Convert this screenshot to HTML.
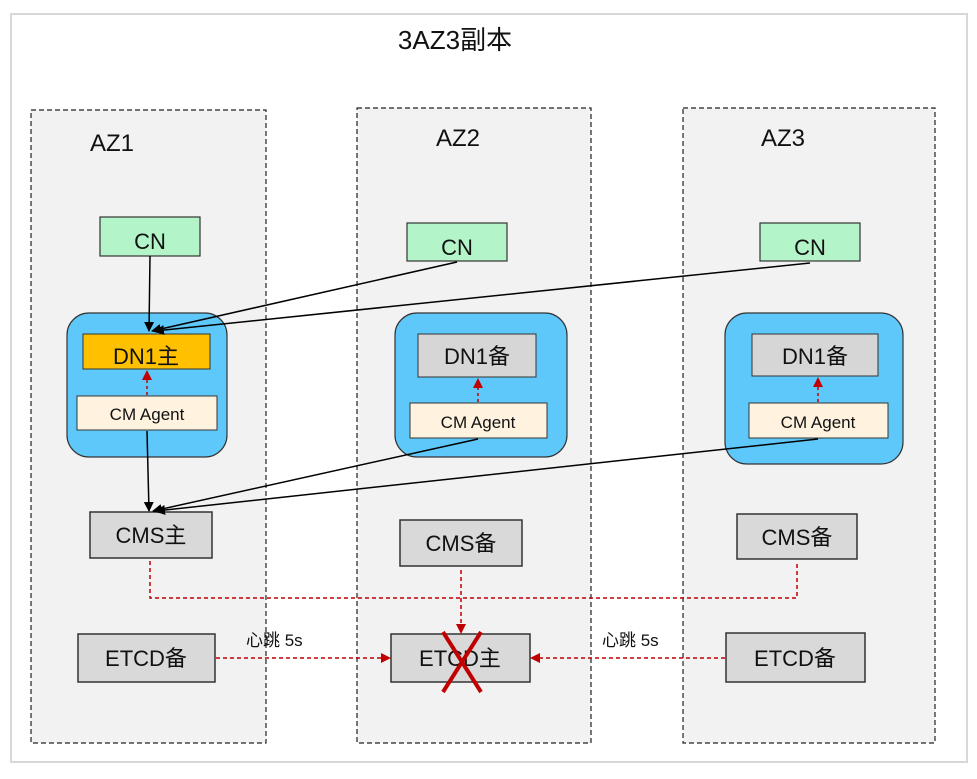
<!DOCTYPE html>
<html><head><meta charset="utf-8"><style>
body{margin:0;background:#fff;width:977px;height:774px;overflow:hidden}
text{font-family:"Liberation Sans","Noto Sans CJK SC",sans-serif;fill:#111}
</style></head><body>
<svg width="977" height="774" viewBox="0 0 977 774" xmlns="http://www.w3.org/2000/svg">
<defs>
<marker id="ab" markerWidth="10" markerHeight="10" refX="9" refY="5" orient="auto" markerUnits="userSpaceOnUse"><path d="M0,0 L10,5 L0,10 z" fill="#000"/></marker>
<marker id="ar" markerWidth="10" markerHeight="10" refX="9" refY="5" orient="auto" markerUnits="userSpaceOnUse"><path d="M0,0 L10,5 L0,10 z" fill="#c00000"/></marker>
</defs>
<rect x="11" y="14" width="956" height="748" fill="#fff" stroke="#d8d8d8" stroke-width="2"/>
<text x="455" y="49" font-size="26" text-anchor="middle">3AZ3副本</text>
<g fill="#f2f2f2" stroke="#222" stroke-width="1.2" stroke-dasharray="5,3">
<rect x="31" y="110" width="235" height="633"/>
<rect x="357" y="108" width="234" height="635"/>
<rect x="683" y="108" width="252" height="635"/>
</g>
<g font-size="24"><text x="90" y="151">AZ1</text><text x="436" y="146">AZ2</text><text x="761" y="146">AZ3</text></g>
<g stroke="#333" stroke-width="1.2" fill="#b3f5c8">
<rect x="100" y="217" width="100" height="39"/><rect x="407" y="223" width="100" height="38"/><rect x="760" y="223" width="100" height="38"/>
</g>
<g font-size="22" text-anchor="middle"><text x="150" y="249">CN</text><text x="457" y="255">CN</text><text x="810" y="255">CN</text></g>
<g stroke="#333" stroke-width="1.2" fill="#5fc8fb">
<rect x="67" y="313" width="160" height="144" rx="22"/><rect x="395" y="313" width="172" height="144" rx="22"/><rect x="725" y="313" width="178" height="151" rx="22"/>
</g>
<rect x="83" y="334" width="127" height="35" fill="#ffc000" stroke="#333"/>
<rect x="418" y="334" width="118" height="43" fill="#d6d6d6" stroke="#333"/>
<rect x="752" y="334" width="126" height="42" fill="#d6d6d6" stroke="#333"/>
<g font-size="22" text-anchor="middle"><text x="146" y="364">DN1主</text><text x="477" y="364">DN1备</text><text x="815" y="364">DN1备</text></g>
<g fill="#fff3e0" stroke="#333">
<rect x="77" y="396" width="140" height="34"/><rect x="410" y="403" width="137" height="35"/><rect x="749" y="403" width="139" height="35"/>
</g>
<g font-size="17" text-anchor="middle"><text x="147" y="420">CM Agent</text><text x="478" y="428">CM Agent</text><text x="818" y="428">CM Agent</text></g>
<g stroke="#c00000" stroke-width="1.5" stroke-dasharray="3,3" marker-end="url(#ar)">
<line x1="147" y1="395" x2="147" y2="371"/><line x1="478" y1="402" x2="478" y2="379"/><line x1="818" y1="402" x2="818" y2="378"/>
</g>
<g fill="#d9d9d9" stroke="#333" stroke-width="1.5">
<rect x="90" y="512" width="122" height="46"/><rect x="400" y="520" width="122" height="46"/><rect x="737" y="514" width="120" height="45"/>
<rect x="78" y="634" width="137" height="48"/><rect x="391" y="634" width="139" height="48"/><rect x="726" y="633" width="139" height="49"/>
</g>
<g font-size="22" text-anchor="middle"><text x="151" y="543">CMS主</text><text x="461" y="551">CMS备</text><text x="797" y="545">CMS备</text>
<text x="146" y="666">ETCD备</text><text x="460" y="666">ETCD主</text><text x="795" y="666">ETCD备</text></g>
<g stroke="#000" stroke-width="1.5" fill="none" marker-end="url(#ab)">
<line x1="150" y1="256" x2="149" y2="331"/><line x1="457" y1="262" x2="152" y2="331"/><line x1="810" y1="263" x2="155" y2="331"/>
<line x1="147" y1="431" x2="149" y2="511"/><line x1="478" y1="439" x2="153" y2="511"/><line x1="818" y1="439" x2="156" y2="511"/>
</g>
<g stroke="#c00000" stroke-width="1.5" fill="none" stroke-dasharray="4,3">
<polyline points="150,561 150,598 797,598 797,562"/>
<line x1="461" y1="570" x2="461" y2="633" marker-end="url(#ar)"/>
<line x1="216" y1="658" x2="390" y2="658" marker-end="url(#ar)"/>
<line x1="725" y1="658" x2="531" y2="658" marker-end="url(#ar)"/>
</g>
<g font-size="17"><text x="246" y="646">心跳 5s</text><text x="602" y="646">心跳 5s</text></g>
<g stroke="#c00000" stroke-width="4"><line x1="443" y1="632" x2="481" y2="692"/><line x1="481" y1="632" x2="443" y2="692"/></g>
</svg>
</body></html>
